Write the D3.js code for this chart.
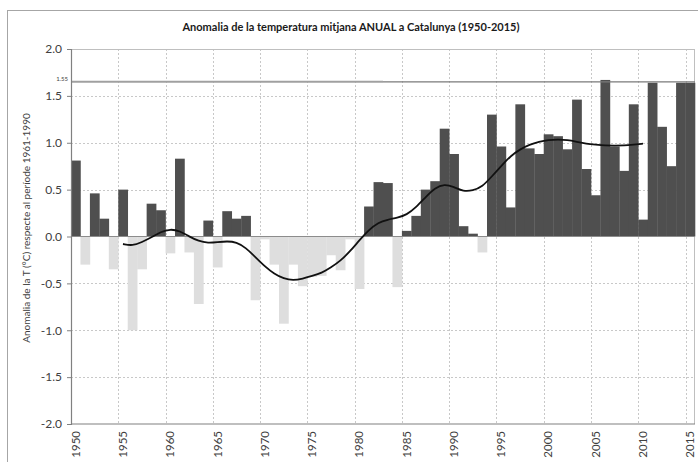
<!DOCTYPE html>
<html>
<head>
<meta charset="utf-8">
<script src="https://cdn.jsdelivr.net/npm/d3@7"></script>
<style>
  body { margin: 0; background: #ffffff; }
  text { font-family: Lato, "Liberation Sans", sans-serif; }
</style>
</head>
<body>
<script>

// years shown on the x axis
const years = d3.range(1950, 2016);

// annual temperature anomaly (°C) respect to 1961-1990
const anomaly = [
   0.81, -0.30,  0.46,  0.19, -0.35,  0.50, -1.00, -0.35,  0.35,  0.28,
  -0.18,  0.83, -0.17, -0.72,  0.17, -0.33,  0.27,  0.19,  0.22, -0.68,
  -0.03, -0.30, -0.93, -0.30, -0.53, -0.43, -0.42, -0.20, -0.36, -0.03,
  -0.56,  0.32,  0.58,  0.57, -0.54,  0.06,  0.22,  0.50,  0.59,  1.15,
   0.88,  0.11,  0.03, -0.17,  1.30,  0.96,  0.31,  1.41,  0.94,  0.88,
   1.09,  1.07,  0.93,  1.46,  0.72,  0.44,  1.67,  0.96,  0.70,  1.41,
   0.18,  1.64,  1.17,  0.75,  1.64,  1.64
];

// smoothed trend line
const smoothYears = d3.range(1955, 2011);
const smoothValues = [
  -0.08, -0.10, -0.06, -0.01,  0.05,  0.08,  0.06,  0.00, -0.05, -0.07,
  -0.06, -0.05, -0.06, -0.12, -0.22, -0.32, -0.40, -0.45, -0.47, -0.45,
  -0.42, -0.39, -0.33, -0.26, -0.16, -0.04,  0.07,  0.15,  0.18,  0.20,
   0.23,  0.31,  0.42,  0.52,  0.56,  0.53,  0.48,  0.49,  0.53,  0.64,
   0.75,  0.86,  0.93,  0.98,  1.01,  1.03,  1.035, 1.03,  1.01,  0.99,
   0.98,  0.97,  0.97,  0.97,  0.98,  0.99
];

// y ticks, x tick labels every five years
const yTicks = [-2.0, -1.5, -1.0, -0.5, 0.0, 0.5, 1.0, 1.5, 2.0];
const xLabels = d3.range(1950, 2016, 5);

// reference level line and its label
const refValue = 1.65;
const refLabel = "1.55";
const refSplitYear = 1983;

// dimensions
const WIDTH = 698;
const HEIGHT = 462;
const MARGIN = {top: 49, bottom: 38, left: 71, right: 3};

let SVG = d3.select('body')
            .append('svg')
            .attr('width', WIDTH)
            .attr('height', HEIGHT);

// outer chart frame
SVG.append('rect')
   .attr('x', 7.5)
   .attr('y', 10.5)
   .attr('width', 700)
   .attr('height', 470)
   .attr('fill', 'none')
   .attr('stroke', '#a6a6a6')
   .attr('stroke-width', 1);

// title
SVG.append('text')
   .attr('x', 351)
   .attr('y', 31)
   .attr('text-anchor', 'middle')
   .style('font-size', '11px')
   .style('font-weight', 'bold')
   .style('fill', '#1a1a1a')
   .text('Anomalia de la temperatura mitjana ANUAL a Catalunya (1950-2015)');

// scales
const xScale = d3.scaleBand()
                 .domain(years)
                 .range([MARGIN.left, WIDTH - MARGIN.right])
                 .padding(0);

const yScale = d3.scaleLinear()
                 .domain([-2, 2])
                 .range([HEIGHT - MARGIN.bottom, MARGIN.top]);

const x0 = MARGIN.left;
const x1 = WIDTH - MARGIN.right;

// horizontal dotted grid
SVG.selectAll('.hgrid')
   .data(yTicks.filter(d => d !== 0 && d !== 2 && d !== -2))
   .enter()
   .append('line')
   .attr('class', 'hgrid')
   .attr('x1', x0)
   .attr('x2', x1)
   .attr('y1', d => Math.round(yScale(d)) + 0.5)
   .attr('y2', d => Math.round(yScale(d)) + 0.5)
   .attr('stroke', '#c8c8c8')
   .attr('stroke-dasharray', '2,2');

// vertical dotted grid, on the category boundaries
SVG.selectAll('.vgrid')
   .data(xLabels.filter(d => d !== 1950))
   .enter()
   .append('line')
   .attr('class', 'vgrid')
   .attr('x1', d => Math.round(xScale(d)) + 0.5)
   .attr('x2', d => Math.round(xScale(d)) + 0.5)
   .attr('y1', yScale(2))
   .attr('y2', yScale(-2))
   .attr('stroke', '#c8c8c8')
   .attr('stroke-dasharray', '2,2');

// top and right border of the plot area
SVG.append('line')
   .attr('x1', x0).attr('x2', x1)
   .attr('y1', yScale(2) + 0.5).attr('y2', yScale(2) + 0.5)
   .attr('stroke', '#bfbfbf');

SVG.append('line')
   .attr('x1', x1 - 0.5).attr('x2', x1 - 0.5)
   .attr('y1', yScale(2)).attr('y2', yScale(-2))
   .attr('stroke', '#bfbfbf');

// bars, dark above zero and light below
SVG.selectAll('.bar')
   .data(years)
   .enter()
   .append('rect')
   .attr('class', 'bar')
   .attr('x', d => xScale(d))
   .attr('width', xScale.bandwidth() + 0.3)
   .attr('y', (d, i) => yScale(Math.max(0, anomaly[i])))
   .attr('height', (d, i) => Math.abs(yScale(anomaly[i]) - yScale(0)))
   .attr('fill', (d, i) => anomaly[i] >= 0 ? '#4f4f4f' : '#dedede');

// zero line
SVG.append('line')
   .attr('x1', x0).attr('x2', x1)
   .attr('y1', yScale(0)).attr('y2', yScale(0))
   .attr('stroke', '#8c8c8c')
   .attr('stroke-width', 1.2);

// reference level line, lighter on its first part
SVG.append('line')
   .attr('x1', x0).attr('x2', xScale(refSplitYear))
   .attr('y1', yScale(refValue)).attr('y2', yScale(refValue))
   .attr('stroke', '#a0a0a0')
   .attr('stroke-width', 2);

SVG.append('line')
   .attr('x1', xScale(refSplitYear)).attr('x2', x1)
   .attr('y1', yScale(refValue)).attr('y2', yScale(refValue))
   .attr('stroke', '#7a7a7a')
   .attr('stroke-width', 1.2);

SVG.append('text')
   .attr('x', x0 - 3)
   .attr('y', yScale(refValue) - 1)
   .attr('text-anchor', 'end')
   .style('font-size', '6px')
   .style('fill', '#404040')
   .text(refLabel);

// smoothed trend
const line = d3.line()
               .x((d, i) => xScale(smoothYears[i]) + xScale.bandwidth() / 2)
               .y(d => yScale(d))
               .curve(d3.curveBasis);

SVG.append('path')
   .datum(smoothValues)
   .attr('d', line)
   .attr('fill', 'none')
   .attr('stroke', '#111111')
   .attr('stroke-width', 1.8);

// y axis, with a plain hyphen for negatives
const yAxis = d3.axisLeft(yScale)
                .tickValues(yTicks)
                .tickFormat(d => d.toFixed(1))
                .tickSizeOuter(0)
                .tickSize(4);

let yG = SVG.append('g')
            .attr('transform', 'translate(' + x0 + ',0)')
            .call(yAxis);
yG.select('.domain').attr('stroke', '#808080').attr('stroke-width', 1.2);
yG.selectAll('.tick line').attr('stroke', '#808080');
yG.selectAll('.tick text')
  .attr('x', -9)
  .style('font-size', '12px')
  .style('fill', '#404040')
  .style('font-family', 'Lato, sans-serif');

// x axis line
SVG.append('line')
   .attr('x1', x0).attr('x2', x1)
   .attr('y1', yScale(-2)).attr('y2', yScale(-2))
   .attr('stroke', '#808080')
   .attr('stroke-width', 1.2);

// rotated year labels
SVG.selectAll('.xlabel')
   .data(xLabels)
   .enter()
   .append('text')
   .attr('class', 'xlabel')
   .attr('transform', d => 'translate(' + (xScale(d) + xScale.bandwidth() / 2 + 4) + ',' + (yScale(-2) + 7) + ') rotate(-90)')
   .attr('text-anchor', 'end')
   .style('font-size', '11.5px')
   .style('fill', '#404040')
   .text(d => d);

// y axis title
SVG.append('text')
   .attr('transform', 'translate(30,228) rotate(-90)')
   .attr('text-anchor', 'middle')
   .style('font-size', '10px')
   .style('fill', '#404040')
   .text('Anomalia de la T (°C) respecte al període 1961-1990');

</script>
</body>
</html>
